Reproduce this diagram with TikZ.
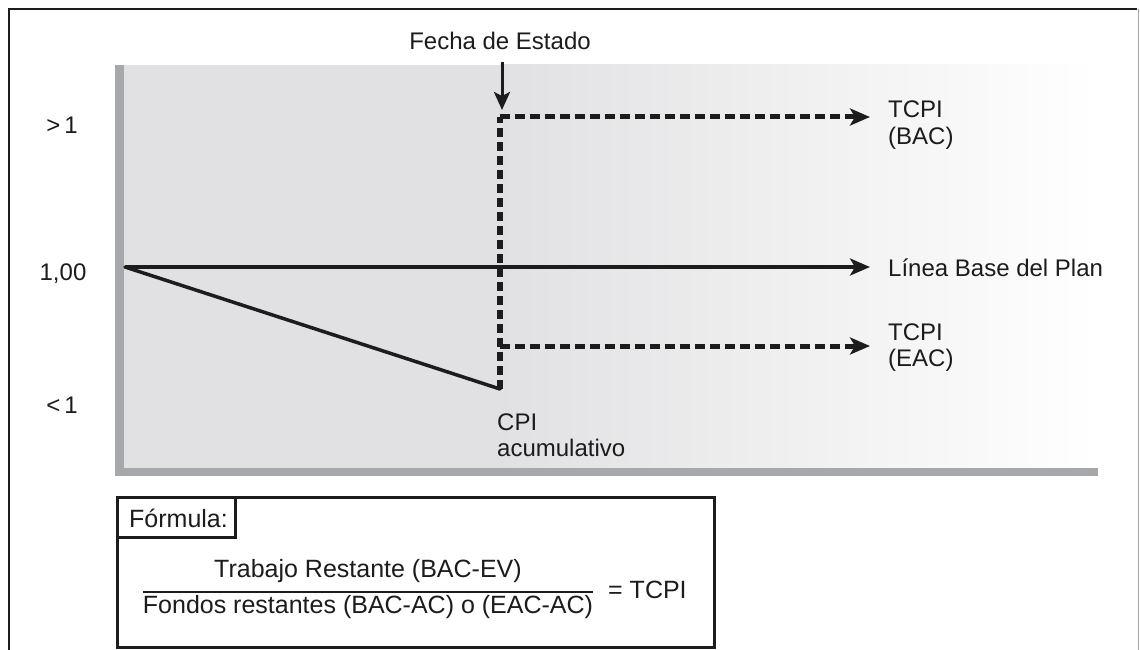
\documentclass[tikz,border=0pt]{standalone}
\usepackage{fontspec}
\setmainfont{Liberation Sans}
\usetikzlibrary{arrows.meta}
\definecolor{plotgray}{HTML}{E1E1E3}
\definecolor{axisgray}{HTML}{A7A8AC}
\definecolor{ink}{HTML}{1C1C1C}
\begin{document}
\begin{tikzpicture}[x=1pt,y=-1pt,
  lbl/.style={font=\fontsize{24}{26}\selectfont, text=ink, inner sep=0pt, align=left},
  ftxt/.style={font=\fontsize{25}{27}\selectfont, text=ink, inner sep=0pt},
  bighead/.style={-{Stealth[length=20pt,width=17pt,inset=5pt]}},
  solidln/.style={line width=3.5pt, draw=ink},
  dashln/.style={line width=5pt, draw=ink, dash pattern=on 10pt off 5pt},
  boxln/.style={line width=3pt, draw=ink}]
\useasboundingbox (0,0) rectangle (1140,650);
\fill[white] (0,0) rectangle (1140,650);
% plot background
\fill[plotgray] (124,65) rectangle (500,468);
\shade[left color=plotgray, right color=white] (500,65) rectangle (1098,468);
% axes
\fill[axisgray] (115,65) rectangle (124,476);
\fill[axisgray] (115,468) rectangle (1098,476);
% outer frame
\draw[line width=2.5pt, draw=ink] (9,650) -- (9,9) -- (1137,9);
\draw[line width=1pt, draw=black!35] (1138,9) -- (1138,650);
% y labels
\node[lbl, anchor=base] (ygt) at (62,133) {>\,1};
\node[lbl, anchor=base] (yone) at (63,280) {1,00};
\node[lbl, anchor=base] (ylt) at (62,413) {<\,1};
% key coordinates
\coordinate (o) at (125,267);
\coordinate (d) at (500,389);
\coordinate (t) at (500,117);
\coordinate (m) at (500,346);
\coordinate (tend) at (870,117);
\coordinate (bend) at (870,267);
\coordinate (mend) at (870,346);
\coordinate (fa) at (502,62);
\coordinate (fb) at (502,110);
% labels
\node[lbl, anchor=base] (fecha) at (500,50) {Fecha de Estado};
\node[lbl, anchor=base west] (tbac) at (888,118) {TCPI};
\node[lbl, anchor=base west] (tbac2) at (888,144) {(BAC)};
\node[lbl, anchor=west] (linea) at (888,268) {Línea Base del Plan};
\node[lbl, anchor=base west] (teac) at (888,340) {TCPI};
\node[lbl, anchor=base west] (teac2) at (888,366) {(EAC)};
\node[lbl, anchor=base west] (cpi) at (497,430) {CPI};
\node[lbl, anchor=base west] (acum) at (497,456) {acumulativo};
% lines
\draw[solidln, bighead] (o) -- (bend);
\draw[line width=3.5pt, draw=ink, line cap=round] (o) -- (d);
\draw[line width=6pt, draw=ink, dash pattern=on 9pt off 5pt] (d) -- (t);
\draw[dashln, bighead] (t) -- (tend);
\draw[dashln, bighead] (m) -- (mend);
\draw[line width=3pt, draw=ink, -{Stealth[length=18pt,width=16pt,inset=4pt]}] (fa) -- (fb);
% formula box
\draw[boxln] (117,497) rectangle (714,647);
\node[ftxt, anchor=base west] (form) at (129,527) {Fórmula:};
\draw[boxln] (117,497) rectangle (235,537);
\coordinate (fl) at (143,592);
\coordinate (fr) at (593,592);
\draw[line width=2pt, draw=ink] (fl) -- (fr);
\node[ftxt, anchor=base] (num) at (368,577) {Trabajo Restante (BAC-EV)};
\node[ftxt, anchor=base] (den) at (368,613) {Fondos restantes (BAC-AC) o (EAC-AC)};
\node[ftxt, anchor=base west] (eq) at (608,598) {= TCPI};
\end{tikzpicture}
\end{document}
